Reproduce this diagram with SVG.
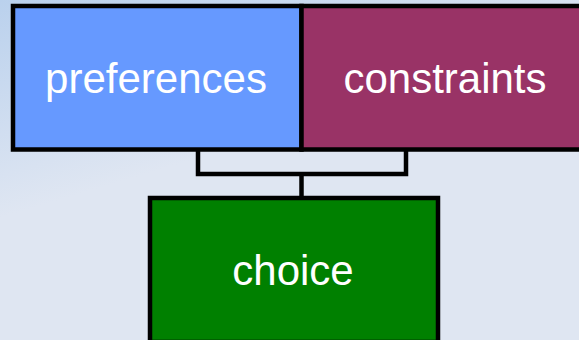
<svg xmlns="http://www.w3.org/2000/svg" width="579" height="340" viewBox="0 0 579 340">
  <defs>
    <linearGradient id="bg" gradientUnits="userSpaceOnUse" x1="0" y1="0" x2="60" y2="200">
      <stop offset="0" stop-color="#bad1ed"/>
      <stop offset="1" stop-color="#dfe6f2"/>
    </linearGradient>
    <style>
      .box { stroke: #000; stroke-width: 4.5; }
      .lbl { font-family: "Liberation Sans", Arial, sans-serif; font-size: 42px; fill: #fff; text-anchor: middle; }
      .conn { fill: none; stroke: #000; stroke-width: 4.5; stroke-linejoin: miter; }
    </style>
  </defs>
  <rect width="579" height="340" fill="url(#bg)"/>
  <g id="connectors">
    <path class="conn" d="M198,150 V174 H406 V150"/>
    <path class="conn" d="M301.5,174 V198"/>
  </g>
  <g id="preferences">
    <rect class="box" x="13" y="6" width="288.5" height="143.5" fill="#6699ff"/>
    <text class="lbl" x="156" y="93">preferences</text>
  </g>
  <g id="constraints">
    <rect class="box" x="301.5" y="6" width="290" height="143.5" fill="#993366"/>
    <text class="lbl" x="445" y="93">constraints</text>
  </g>
  <g id="choice">
    <rect class="box" x="150" y="198" width="288" height="144" fill="#008000"/>
    <text class="lbl" x="293" y="285">choice</text>
  </g>
</svg>
